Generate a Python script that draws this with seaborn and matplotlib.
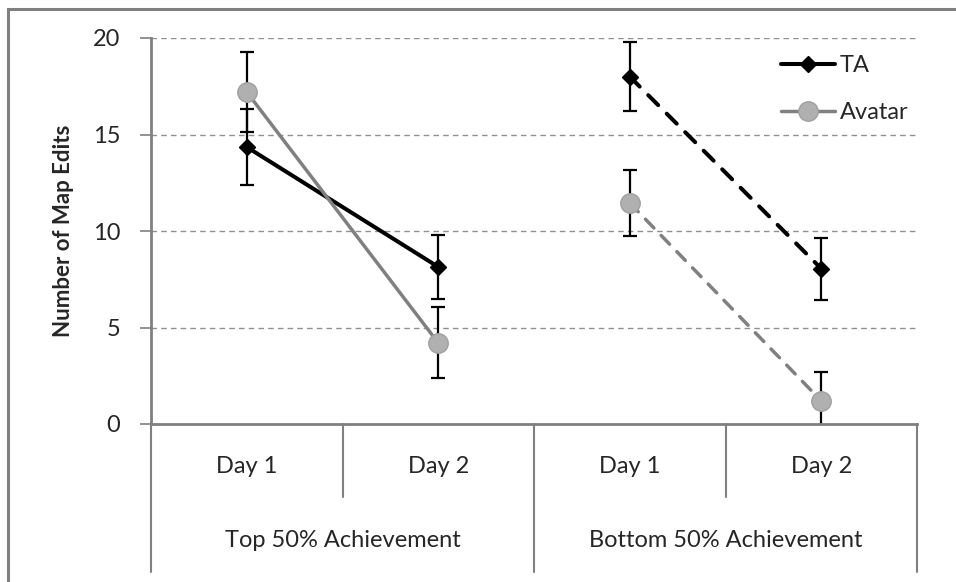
import matplotlib
matplotlib.use("Agg")
import matplotlib.pyplot as plt
import seaborn as sns
import pandas as pd
from matplotlib.lines import Line2D
from matplotlib.patches import Rectangle

days = ["Day 1", "Day 2", "Day 1", "Day 2"]
groups = ["Top 50% Achievement", "Bottom 50% Achievement"]
series = ["TA", "Avatar"]
ta_values = [14.35, 8.14, 18.0, 8.05]
ta_errors = [1.95, 1.64, 1.8, 1.6]
avatar_values = [17.2, 4.2, 11.45, 1.2]
avatar_errors = [2.05, 1.84, 1.73, 1.5]
yticks = [0, 5, 10, 15, 20]

sns.set_theme(style="white")
plt.rcParams["font.family"] = ["Lato", "DejaVu Sans"]

rows = []
for s, vals, errs in [("TA", ta_values, ta_errors), ("Avatar", avatar_values, avatar_errors)]:
    for i, (v, e) in enumerate(zip(vals, errs)):
        rows.append({"x": i, "value": v, "err": e, "series": s, "group": groups[i // 2]})
df = pd.DataFrame(rows)

fig = plt.figure(figsize=(9.56, 5.82), dpi=100)
ax = fig.add_axes([151/956, 1-424/582, (917-151)/956, (424-38)/582])

# outer frame
fig.patches.append(Rectangle((8/956, -0.1), 1.2, (582-9)/582 + 0.1, transform=fig.transFigure,
                             fill=False, edgecolor="#808080", linewidth=2.2, zorder=0))

styles = {
    "TA": dict(color="black", marker="D", ms=8, mfc="black", mec="black", lw=2.9, z=4),
    "Avatar": dict(color="#808080", marker="o", ms=14, mfc="#b0b0b0", mec="#a0a0a0", lw=2.5, z=5),
}

for s in series:
    sub = df[df.series == s]
    ax.errorbar(sub["x"], sub["value"], yerr=sub["err"], fmt="none", ecolor="black",
                elinewidth=1.6, capsize=5, capthick=1.6, zorder=2)
for s in series:
    st = styles[s]
    for g, dash in zip(groups, [None, (3.5, 3.0)]):
        sub = df[(df.series == s) & (df.group == g)]
        sns.lineplot(data=sub, x="x", y="value", ax=ax, color=st["color"], lw=st["lw"],
                     legend=False, zorder=st["z"], sort=False)
        l = ax.lines[-1]
        if dash is not None:
            l.set_dashes(dash)
            l.set_dash_capstyle("round")
        ax.plot(sub["x"], sub["value"], linestyle="none", marker=st["marker"], ms=st["ms"],
                mfc=st["mfc"], mec=st["mec"], mew=1, zorder=st["z"] + 0.5)

ax.set_xlim(-0.5, 3.5)
ax.set_ylim(0, 20)
ax.set_yticks(yticks)
ax.set_yticklabels([str(t) for t in yticks], fontsize=17)
ax.set_xticks([])
ax.set_xlabel("")
ax.set_ylabel("Number of Map Edits", fontsize=16, fontweight="bold", labelpad=14)
ax.tick_params(axis="y", length=8, width=1.2, color="#808080", direction="out", pad=14, left=True)
for y in yticks[1:]:
    ax.axhline(y, color="#909090", lw=1, ls=(0, (4, 3)), zorder=1)
for sp in ["top", "right"]:
    ax.spines[sp].set_visible(False)
for sp in ["left", "bottom"]:
    ax.spines[sp].set_color("#808080")
    ax.spines[sp].set_linewidth(2)

trans = ax.get_xaxis_transform()
for i, d in enumerate(days):
    ax.text(i, -0.111, d, transform=trans, ha="center", va="center", fontsize=17)
for j, g in enumerate(groups):
    ax.text(0.5 + 2 * j, -0.303, g, transform=trans, ha="center", va="center", fontsize=17)
for xv in [0.5, 2.5]:
    ax.plot([xv, xv], [0, -0.189], transform=trans, color="#808080", lw=1.5, clip_on=False)
for xv in [-0.5, 1.5, 3.5]:
    ax.plot([xv, xv], [0, -0.383], transform=trans, color="#808080", lw=1.5, clip_on=False)

handles = [Line2D([], [], color="black", lw=2.9, marker="D", ms=8, mfc="black", mec="black"),
           Line2D([], [], color="#808080", lw=2.5, marker="o", ms=14, mfc="#b0b0b0", mec="#a0a0a0")]
ax.legend(handles, series, loc="upper left", bbox_to_anchor=(0.822, 0.955), frameon=False,
          fontsize=17, handlelength=2.3, handletextpad=0.2, labelspacing=1.1, borderaxespad=0,
          borderpad=0)

fig.savefig("out.png", dpi=100)
